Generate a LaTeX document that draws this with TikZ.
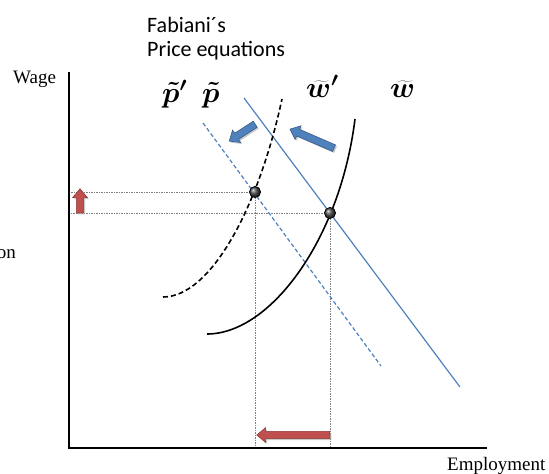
\RequirePackage{fix-cm}
\documentclass[tikz,border=0pt]{standalone}
\usepackage{fontspec}
\setmainfont{Liberation Serif}
\newfontfamily\carlito{Carlito}
\usetikzlibrary{shapes.arrows,shadows}
\definecolor{ofblue}{HTML}{4F81BD}
\definecolor{ofbluedk}{HTML}{385D8A}
\definecolor{ofred}{HTML}{C0504D}
\definecolor{ofreddk}{HTML}{8C3836}
\begin{document}
\begin{tikzpicture}[x=1pt,y=-1pt,
  axis/.style={line width=1.6pt},
  curve/.style={line width=1.6pt},
  bline/.style={ofblue,line width=1.2pt},
  guide/.style={gray,line width=0.6pt,dash pattern=on 1.5pt off 1pt},
  eqpt/.style={circle,draw=black,line width=0.6pt,inner sep=0pt,minimum size=11pt,ball color=gray!60!black},
  blk/.style={single arrow,inner sep=3.3pt,single arrow head extend=3.8pt,single arrow tip angle=80,line width=0.6pt,
    drop shadow={shadow xshift=1.5pt,shadow yshift=-1.5pt,fill=gray!70,opacity=0.6}},
  redarr/.style={blk,fill=ofred,draw=ofreddk},
  bluearr/.style={blk,fill=ofblue,draw=ofbluedk},
  lbl/.style={inner sep=0pt,anchor=base west},
  txt/.style={lbl,font=\fontsize{19}{22}\selectfont},
  cal/.style={lbl,font=\carlito\fontsize{22}{26}\selectfont},
  mth/.style={lbl,font=\fontsize{29}{32}\selectfont\boldmath}]
\useasboundingbox (0,0) rectangle (549,474);
% axes
\coordinate (O) at (69,448);
\coordinate (ytop) at (69,72);
\coordinate (xend) at (487,448);
% equilibrium points
\node[eqpt] (e1) at (255,192) {};
\node[eqpt] (e2) at (330,213) {};
% guides
\draw[guide] (e1.center) -- (e1.center -| O);
\draw[guide] (e2.center) -- (e2.center -| O);
\draw[guide] (e1.center) -- (e1.center |- O);
\draw[guide] (e2.center) -- (e2.center |- O);
\draw[axis] (ytop) -- (O) -- (xend);
% blue lines
\coordinate (ws1) at (244,98);
\coordinate (ws2) at (460,387);
\coordinate (wd1) at (203,123);
\coordinate (wd2) at (381,366);
\draw[bline] (ws1) -- (ws2);
\draw[bline,dash pattern=on 4pt off 2.5pt] (wd1) -- (wd2);
% black curves
\coordinate (pd1) at (163,297);
\coordinate (pd2) at (282,99);
\coordinate (ps1) at (207,334);
\coordinate (ps2) at (355,119);
\draw[curve,dash pattern=on 5pt off 3pt] (pd1) .. controls (210,297) and (258,210) .. (pd2);
\draw[curve] (ps1) .. controls (270,334) and (340,240) .. (ps2);
% redraw points on top
\node[eqpt] at (e1) {};
\node[eqpt] at (e2) {};
% block arrows
\node[redarr,minimum height=24pt,rotate=90] (rup) at (80,203) {};
\node[redarr,minimum height=73pt,rotate=180] (rleft) at (295.5,435) {};
\node[bluearr,minimum height=31pt,rotate=213] (b1) at (244,131.5) {};
\node[bluearr,minimum height=48pt,rotate=156.6] (b2) at (314,139.5) {};
% texts
\node[cal] (fab) at (147,32) {Fabiani´s};
\node[cal] (peq) at (147,56) {Price equations};
\node[txt] (wage) at (13,83) {Wage};
\node[txt] (emp) at (447,470) {Employment};
\node[txt,anchor=base east] (on) at (16,258) {on};
\node[mth] (pp) at (162,102) {$\tilde{p}'$};
\node[mth] (p) at (202,102) {$\tilde{p}$};
\node[mth] (wp) at (306,97) {$\widetilde{w}'$};
\node[mth] (w) at (390,97) {$\widetilde{w}$};
\end{tikzpicture}
\end{document}
